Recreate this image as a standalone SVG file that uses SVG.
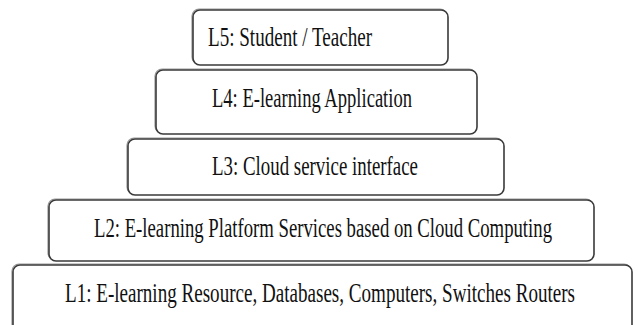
<svg xmlns="http://www.w3.org/2000/svg" width="638" height="325" viewBox="0 0 638 325">
<style>
.box{fill:#fff;stroke:#3a3a3a;stroke-width:1.6}
.sh{fill:none;stroke:#9a9a9a;stroke-width:1.2}
text{font-family:'Liberation Serif','Times New Roman',Times,serif;font-size:27px;fill:#111}
</style>
<rect width="638" height="325" fill="#fff"/>
<g id="L5">
<rect class="sh" x="192" y="9" width="255" height="55" rx="7"/>
<rect class="box" x="193" y="10" width="255" height="55" rx="7"/>
<text transform="scale(0.7,1)" x="297.14" y="46" textLength="234.29" lengthAdjust="spacingAndGlyphs">L5: Student / Teacher</text>
</g>
<g id="L4">
<rect class="sh" x="155" y="69" width="321" height="64" rx="7"/>
<rect class="box" x="156" y="70" width="321" height="64" rx="7"/>
<text transform="scale(0.7,1)" x="302.86" y="107" textLength="285.71" lengthAdjust="spacingAndGlyphs">L4: E-learning Application</text>
</g>
<g id="L3">
<rect class="sh" x="127" y="138" width="376" height="56" rx="7"/>
<rect class="box" x="128" y="139" width="376" height="56" rx="7"/>
<text transform="scale(0.7,1)" x="302.86" y="175" textLength="294.29" lengthAdjust="spacingAndGlyphs">L3: Cloud service interface</text>
</g>
<g id="L2">
<rect class="sh" x="48" y="199" width="545" height="61" rx="7"/>
<rect class="box" x="49" y="200" width="545" height="61" rx="7"/>
<text transform="scale(0.7,1)" x="134.29" y="237" textLength="654.29" lengthAdjust="spacingAndGlyphs">L2: E-learning Platform Services based on Cloud Computing</text>
</g>
<g id="L1">
<rect class="sh" x="12" y="264" width="619" height="80" rx="7"/>
<rect class="box" x="13" y="265" width="619" height="80" rx="7"/>
<text transform="scale(0.7,1)" x="92.86" y="302" textLength="728.57" lengthAdjust="spacingAndGlyphs">L1: E-learning Resource, Databases, Computers, Switches Routers</text>
</g>
<g id="connectors"></g>
</svg>
